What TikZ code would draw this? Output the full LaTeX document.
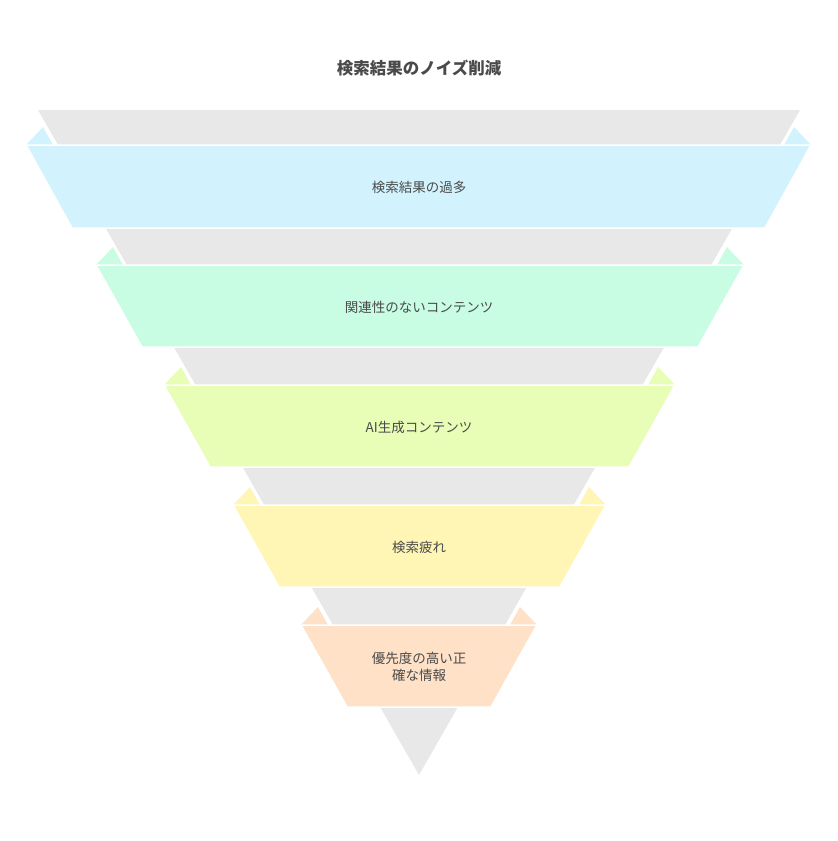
\documentclass[tikz,border=0pt]{standalone}
\usepackage{fontspec}
\setmainfont{Noto Sans CJK JP}
\begin{document}
\begin{tikzpicture}[x=1pt,y=-1pt,
  band/.style={fill=#1,draw=white,line width=1.5pt,line join=miter},
  lbl/.style={text=txt,font=\fontsize{13.5}{17}\selectfont,align=center}]
\definecolor{txt}{HTML}{4A4A4A}
\definecolor{gr}{HTML}{E8E8E8}
\definecolor{c1}{HTML}{D2F3FD}
\definecolor{c2}{HTML}{C8FCE3}
\definecolor{c3}{HTML}{E8FDB6}
\definecolor{c4}{HTML}{FFF6B5}
\definecolor{c5}{HTML}{FFE1C8}
\useasboundingbox[fill=white] (0,0) rectangle (838,841);
\fill[gr] (38,110) -- (800,110) -- (419,775) -- cycle;
\node[text=txt,font=\bfseries\fontsize{16.5}{20}\selectfont] (title) at (419,68) {検索結果のノイズ削減};
\foreach \t/\b/\l/\r/\c in {145/228/26/811/c1, 265/347/96/744/c2, 385/467/164/675/c3, 505/587/233/606/c4, 625/707/301/537/c5}{
  \fill[\c] (\l,\t) -- (\l+17,\t-18) -- (\l+27,\t) -- cycle;
  \fill[\c] (\r,\t) -- (\r-17,\t-18) -- (\r-27,\t) -- cycle;
  \draw[band=\c] (\l,\t) -- (\r,\t) -- (\r-46,\b) -- (\l+46,\b) -- cycle;
}
\node[lbl] (a) at (419,187) {検索結果の過多};
\node[lbl] (b) at (419,307) {関連性のないコンテンツ};
\node[lbl] (c) at (419,427) {AI生成コンテンツ};
\node[lbl] (d) at (419,547) {検索疲れ};
\node[lbl] (e) at (419,667) {優先度の高い正\\確な情報};
\end{tikzpicture}
\end{document}
